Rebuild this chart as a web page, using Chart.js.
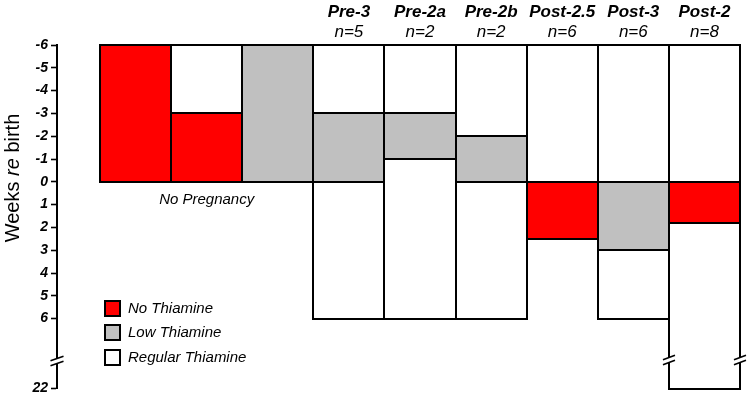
<!DOCTYPE html>
<html>
<head>
<meta charset="utf-8">
<script src="https://cdn.jsdelivr.net/npm/chart.js@4.4.0/dist/chart.umd.min.js"></script>
<style>
  html, body { margin: 0; padding: 0; background: #fff; }
  #wrap { width: 750px; height: 400px; position: relative; }
</style>
</head>
<body>
<div id="wrap"><canvas id="c" width="750" height="400"></canvas></div>
<script>
// ---------- data ----------
const columnNames = ['', '', '', 'Pre-3', 'Pre-2a', 'Pre-2b', 'Post-2.5', 'Post-3', 'Post-2'];
const columnN     = ['', '', '', 'n=5', 'n=2', 'n=2', 'n=6', 'n=6', 'n=8'];
const groupLabel  = 'No Pregnancy';           // label under columns 0-2
const groupLabelColumn = 1;

// treatment periods (weeks relative to birth), top to bottom in each column
const layer1Weeks = [[-6, 0], [-6, -3], [-6, 0], [-6, -3], [-6, -3], [-6, -2], [-6, 0], [-6, 0], [-6, 0]];
const layer1Diet  = ['none', 'regular', 'low', 'regular', 'regular', 'regular', 'regular', 'regular', 'regular'];
const layer2Weeks = [null, [-3, 0], null, [-3, 0], [-3, -1], [-2, 0], [0, 2.5], [0, 3], [0, 1.8]];
const layer2Diet  = [null, 'none', null, 'low', 'low', 'low', 'none', 'low', 'none'];
const layer3Weeks = [null, null, null, [0, 6], [-1, 6], [0, 6], null, [3, 6], [1.8, 22]];
const layer3Diet  = [null, null, null, 'regular', 'regular', 'regular', null, 'regular', 'regular'];

const dietKeys    = ['none', 'low', 'regular'];
const dietLabels  = ['No Thiamine', 'Low Thiamine', 'Regular Thiamine'];
const yTickWeeks  = [-6, -5, -4, -3, -2, -1, 0, 1, 2, 3, 4, 5, 6, 22];
const yTitleParts = ['Weeks ', 're', ' birth'];

// ---------- styling ----------
const FONT = '"Liberation Sans", Arial, Helvetica, sans-serif';
const dietColors = { none: '#ff0000', low: '#c0c0c0', regular: '#ffffff' };
const BROKEN_SPAN = 3.07;   // axis units used for weeks 6..22 (broken axis)
const BREAK_AT = 7.85;      // axis position of the break marks
const LAST_LINEAR = 6;
const X_MIN = -1.105, X_MAX = 8.5;

function toAxis(w) {
  const top = yTickWeeks[yTickWeeks.length - 1];
  return w <= LAST_LINEAR ? w : LAST_LINEAR + (w - LAST_LINEAR) / (top - LAST_LINEAR) * BROKEN_SPAN;
}

const layers = [[layer1Weeks, layer1Diet], [layer2Weeks, layer2Diet], [layer3Weeks, layer3Diet]];

const datasets = layers.map(([weeks, diet], li) => ({
  label: 'period ' + (li + 1),
  data: weeks.map((w, i) => w ? { x: i, y: [toAxis(w[0]), toAxis(w[1])], a: w[0], b: w[1], diet: diet[i] } : null)
             .filter(Boolean),
  backgroundColor: ctx => ctx.raw ? dietColors[ctx.raw.diet] : '#fff',
  borderWidth: 0,
  borderSkipped: false,
  inflateAmount: 0,
  grouped: false,
  barPercentage: 1,
  categoryPercentage: 1
}));

// ---------- decorations ----------
// outline of a bar, taken from the chart's own scales (snapped to whole pixels)
function barRect(chart, raw) {
  const { x, y } = chart.scales;
  const p0 = y.getPixelForValue(raw.y[0]), p1 = y.getPixelForValue(raw.y[1]);
  return {
    l: Math.round(x.getPixelForValue(raw.x - 0.5)), r: Math.round(x.getPixelForValue(raw.x + 0.5)),
    t: Math.round(Math.min(p0, p1)), b: Math.round(Math.max(p0, p1))
  };
}

function breakMark(ctx, cx, cy, halfW) {
  ctx.fillStyle = '#fff';
  ctx.fillRect(cx - 2.5, cy - 2.5, 5, 5);
  ctx.strokeStyle = '#000';
  ctx.lineWidth = 1.6;
  for (const dy of [-2.5, 2.5]) {
    ctx.beginPath();
    ctx.moveTo(cx - halfW, cy + dy + 2.3);
    ctx.lineTo(cx + halfW, cy + dy - 2.3);
    ctx.stroke();
  }
}

const outlines = {
  id: 'outlines',
  afterDatasetsDraw(chart) {
    const ctx = chart.ctx;
    ctx.save();
    ctx.strokeStyle = '#000';
    ctx.lineWidth = 2;
    chart.data.datasets.forEach(ds => {
      ds.data.forEach(raw => {
        const r = barRect(chart, raw);
        ctx.strokeRect(r.l, r.t, r.r - r.l, r.b - r.t);
      });
    });
    ctx.restore();
  }
};

const decor = {
  id: 'decor',
  afterDraw(chart) {
    const { ctx, chartArea: ca, scales: { x, y } } = chart;
    ctx.save();

    // y-axis title with italic "re"
    ctx.save();
    ctx.translate(13, 178);
    ctx.rotate(-Math.PI / 2);
    ctx.fillStyle = '#000';
    ctx.textBaseline = 'middle';
    ctx.textAlign = 'left';
    const fonts = ['20px ' + FONT, 'italic 20px ' + FONT, '20px ' + FONT];
    let total = 0;
    const widths = yTitleParts.map((p, i) => { ctx.font = fonts[i]; const w = ctx.measureText(p).width; total += w; return w; });
    let ux = -total / 2;
    yTitleParts.forEach((p, i) => { ctx.font = fonts[i]; ctx.fillText(p, ux, 0); ux += widths[i]; });
    ctx.restore();

    // group label
    ctx.fillStyle = '#000';
    ctx.font = 'italic 15px ' + FONT;
    ctx.textAlign = 'center';
    ctx.textBaseline = 'middle';
    ctx.fillText(groupLabel, x.getPixelForValue(groupLabelColumn), y.getPixelForValue(0) + 18);

    // axis break
    const yb = Math.round(y.getPixelForValue(BREAK_AT));
    breakMark(ctx, ca.left, yb, 6.5);

    // bar breaks
    chart.data.datasets.forEach(ds => {
      ds.data.forEach(raw => {
        if (raw.b > LAST_LINEAR) {
          const r = barRect(chart, raw);
          breakMark(ctx, r.l, yb - 1, 6);
          breakMark(ctx, r.r, yb - 1, 6);
        }
      });
    });

    // legend
    const lx = Math.round(ca.left + 47);
    dietKeys.forEach((k, i) => {
      const top = Math.round(ca.bottom - 89 + i * 24.5);
      ctx.fillStyle = dietColors[k];
      ctx.fillRect(lx, top, 17, 17);
      ctx.strokeStyle = '#000';
      ctx.lineWidth = 2;
      ctx.strokeRect(lx + 1, top + 1, 15, 15);
      ctx.fillStyle = '#000';
      ctx.font = 'italic 15px ' + FONT;
      ctx.textAlign = 'left';
      ctx.textBaseline = 'middle';
      ctx.fillText(dietLabels[i], lx + 24, top + 9);
    });
    ctx.restore();
  }
};

// ---------- chart ----------
const headerAxis = (labels, weight, height, padding, fontWeight) => ({
  type: 'linear', position: 'top', weight: weight, min: X_MIN, max: X_MAX, offset: false,
  afterBuildTicks: s => { s.ticks = labels.map((_, i) => ({ value: i })).filter(t => labels[t.value]); },
  afterFit: s => { s.height = height; },
  ticks: { autoSkip: false, maxRotation: 0, minRotation: 0, padding: padding, color: '#000',
           font: { family: FONT, size: 17, style: 'italic', weight: fontWeight },
           callback: v => labels[v] },
  grid: { display: false, drawTicks: false },
  border: { display: false }
});

new Chart(document.getElementById('c'), {
  type: 'bar',
  data: { datasets: datasets },
  options: {
    responsive: false,
    animation: false,
    devicePixelRatio: 1,
    layout: { padding: { top: 0, left: 0, right: 10, bottom: 11 } },
    plugins: { legend: { display: false }, tooltip: { enabled: false } },
    scales: {
      x: {
        type: 'linear', min: X_MIN, max: X_MAX, offset: false, display: false,
        afterBuildTicks: s => { s.ticks = columnNames.map((_, i) => ({ value: i })); }
      },
      xNames: headerAxis(columnNames, 2, 24, 1, 'bold'),
      xN: headerAxis(columnN, 1, 21, 3, 'normal'),
      y: {
        type: 'linear', reverse: true, min: yTickWeeks[0], max: toAxis(yTickWeeks[yTickWeeks.length - 1]),
        afterFit: s => { s.width = 57; },
        afterBuildTicks: s => { s.ticks = yTickWeeks.map(w => ({ value: toAxis(w) })); },
        ticks: { autoSkip: false, padding: 3, color: '#000',
                 font: { family: FONT, size: 14, style: 'italic', weight: 'bold' },
                 callback: (v, i) => String(yTickWeeks[i]) },
        grid: { display: true, drawOnChartArea: false, drawTicks: true, tickLength: 6, tickWidth: 1.6, tickColor: '#000' },
        border: { display: true, color: '#000', width: 2 }
      }
    }
  },
  plugins: [outlines, decor]
});
</script>
</body>
</html>
